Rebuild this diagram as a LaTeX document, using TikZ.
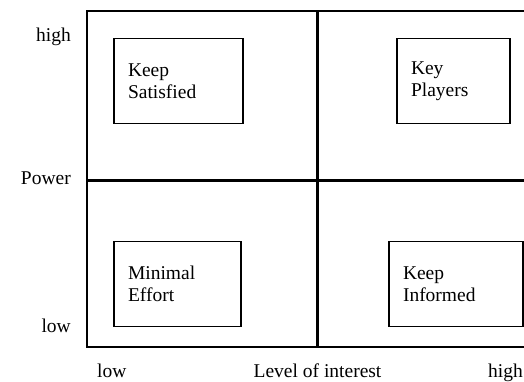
\documentclass[tikz,border=0pt]{standalone}
\usepackage{fontspec}
\setmainfont{Liberation Serif}
\usetikzlibrary{positioning}

\begin{document}
\begin{tikzpicture}[
      x=1pt, y=-1pt,
      font=\fontsize{19.5}{22.5}\selectfont,
      quad/.style  = {rectangle, draw, line width=1.3pt, minimum height=85pt,
                      inner xsep=14pt, inner ysep=0pt, align=left},
      frame/.style = {draw, line width=2pt},
      split/.style = {draw, line width=3pt},
      axl/.style   = {inner sep=0pt},
    ]
    \useasboundingbox (0,0) rectangle (524,382);

    %% ------------------------------------------------ grid
    \coordinate (tl) at (87, 11);
    \coordinate (bl) at (87, 347);
    \coordinate (tr) at (524, 11);
    \coordinate (br) at (524, 347);
    \coordinate (vt) at (317, 11);
    \coordinate (vb) at (317, 347);
    \coordinate (hl) at (87, 180);
    \coordinate (hr) at (524, 180);
    \draw[frame] (tr) -- (tl) -- (bl) -- (br);
    \draw[split] (vt) -- (vb);
    \draw[split] (hl) -- (hr);

    %% ------------------------------------------------ quadrants
    \node[quad, text width=101pt] (sat) at (178.5, 81)  {Keep\\Satisfied};
    \node[quad, text width=85pt]  (key) at (453.5, 81)  {Key\\Players};
    \node[quad, text width=99pt]  (min) at (177.5, 284) {Minimal\\Effort};
    \node[quad, text width=106pt] (inf) at (456, 284)   {Keep\\Informed};

    %% ------------------------------------------------ axis labels
    \node[axl, anchor=base east] (phigh) at (71, 42)  {high};
    \node[axl, anchor=base east] (power) at (71, 184) {Power};
    \node[axl, anchor=base east] (plow)  at (71, 332) {low};
    \node[axl, anchor=base west] (ilow)  at (97, 377) {low};
    \node[axl, anchor=base]      (level) at (317.5, 377) {Level of interest};
    \node[axl, anchor=base west] (ihigh) at (488, 377) {high};
  \end{tikzpicture}
\end{document}
